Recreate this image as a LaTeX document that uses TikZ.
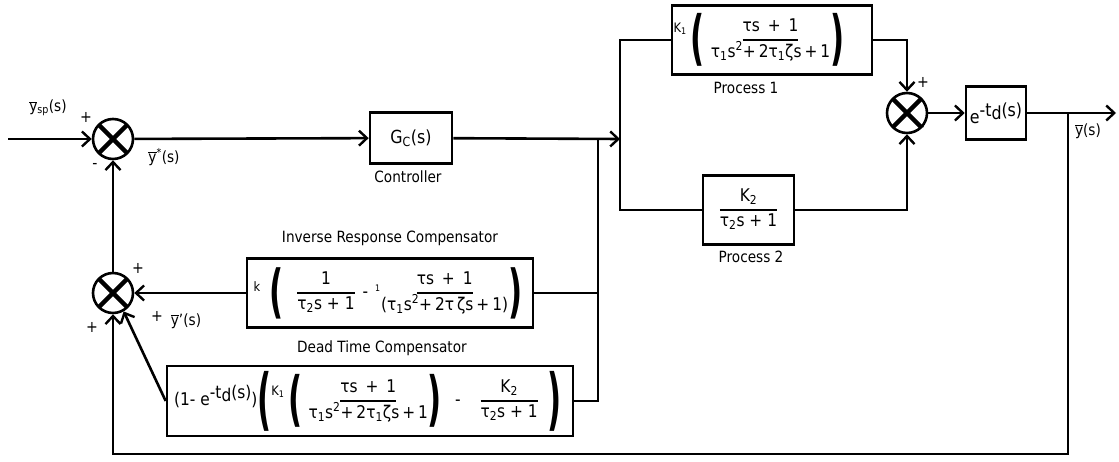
\documentclass[tikz,border=0pt]{standalone}
\usepackage{fontspec}
\usepackage{graphicx}
\setmainfont{DejaVu Sans}[FakeStretch=0.88]
\usetikzlibrary{arrows.meta}
\newsavebox\fnumbox
\newcommand\fracbox[3]{\ensuremath{\vcenter{\offinterlineskip\halign{\hfil##\hfil\cr\strut #2\cr\noalign{\kern1pt}\rule{#1}{2pt}\cr\noalign{\kern1pt}\strut #3\cr}}}}
\newcommand\frN[2]{\sbox\fnumbox{#1}\fracbox{\wd\fnumbox}{#1}{#2}}
\newcommand\frD[2]{\sbox\fnumbox{#2}\fracbox{\wd\fnumbox}{#1}{#2}}
\newcommand\LP[2]{\ensuremath{\vcenter{\hbox{\scalebox{#1}[#2]{\bfseries(}}}}}
\newcommand\RP[2]{\ensuremath{\vcenter{\hbox{\scalebox{#1}[#2]{\bfseries)}}}}}
\newcommand\ybar{\ensuremath{\overline{\mbox{y}}}}
\newcommand\sm[1]{{\fontsize{13}{15}\selectfont #1}}
\newcommand\sps{\hspace{0.45em}}
\newcommand\ts{\hspace{0.17em}}
\newcommand\denP{τ\textsubscript{1}s\textsuperscript{2}+\ts2τ\textsubscript{1}ζs\ts+\ts1}
\tikzset{
  line/.style={line width=2.6pt},
  arr/.style={line width=2.6pt,-{Straight Barb[length=8pt,width=15pt,line width=2.4pt]}},
  blk/.style={draw,line width=2.6pt,inner sep=0pt,align=center},
  fml/.style={font=\fontsize{17.5}{21}\selectfont},
  sumj/.style={circle,draw,line width=2.6pt,minimum size=40pt,inner sep=0pt,
    path picture={\draw[line width=4.5pt]
      (path picture bounding box.north west)--(path picture bounding box.south east)
      (path picture bounding box.north east)--(path picture bounding box.south west);}},
  lbl/.style={font=\fontsize{15.5}{18}\selectfont,inner sep=0pt},
  sgn/.style={font=\fontsize{16}{18}\selectfont,inner sep=0pt},
}
\begin{document}
\begin{tikzpicture}[x=1pt,y=-1pt]
\useasboundingbox (0,0) rectangle (1119,462);
% summing junctions
\node[sumj] (s1) at (113,139) {};
\node[sumj] (s2) at (907,113) {};
\node[sumj] (s3) at (113,293) {};
% blocks
\node[blk,minimum width=82pt,minimum height=51pt,font=\fontsize{18}{21}\selectfont] (gc) at (411,138) {G\textsubscript{C}(s)};
\node[blk,fml,minimum width=200pt,minimum height=69pt] (p1) at (772,40)
  {\raisebox{12pt}{\sm{K\textsubscript{1}}}\hspace{4pt}\LP{2}{3.4}\hspace{6pt}\frN{τs\sps+\sps1}{\denP}\RP{2}{3.4}\hspace{26pt}};
\node[blk,fml,minimum width=91pt,minimum height=69pt] (p2) at (748.5,210)
  {\frD{K\textsubscript{2}}{τ\textsubscript{2}s + 1}};
\node[blk,minimum width=60pt,minimum height=53pt,font=\fontsize{18}{21}\selectfont] (ed) at (996,113)
  {e\raisebox{7pt}{-t\raisebox{-3pt}{d}(s)}};
\node[blk,fml,minimum width=286pt,minimum height=69pt] (irc) at (390,293)
  {\raisebox{6pt}{\sm{k}}\hspace{9pt}\LP{2}{3.3}\hspace{14pt}\frD{1}{τ\textsubscript{2}s + 1}\hspace{8pt}-\hspace{7pt}\raisebox{6pt}{\fontsize{9}{10}\selectfont 1}\hspace{1pt}\frN{τs\sps+\sps1}{(τ\textsubscript{1}s\textsuperscript{2}+\ts2τ\ts ζs\ts+\ts1)}\RP{2}{3.3}\hspace{4pt}};
\node[blk,fml,minimum width=406pt,minimum height=70pt] (dtc) at (370,401)
  {(1- e\raisebox{7pt}{-t\raisebox{-3pt}{d}(s)})\LP{2}{3.85}\raisebox{10pt}{\sm{K\textsubscript{1}}}\hspace{4pt}\LP{2}{3.4}\hspace{6pt}\frN{τs\sps+\sps1}{\denP}\RP{2}{3.4}\hspace{13pt}-\hspace{20pt}\frD{K\textsubscript{2}}{τ\textsubscript{2}s + 1}\hspace{10pt}\RP{2}{3.85}\hspace{4pt}};
% labels
\node[lbl] (lgc) at (408,177) {Controller};
\node[lbl] (lp1) at (746,88) {Process 1};
\node[lbl] (lp2) at (751,257) {Process 2};
\node[lbl] (lirc) at (390,238) {Inverse Response Compensator};
\node[lbl] (ldtc) at (382,348) {Dead Time Compensator};
\node[lbl] (lysp) at (48,108) {\ybar\textsubscript{sp}(s)};
\node[lbl] (lys) at (164,157) {\ybar\textsuperscript{*}(s)};
\node[lbl] (lyp) at (186,321) {\ybar'(s)};
\node[lbl] (ly) at (1088,131) {\ybar(s)};
\node[sgn] at (86,117) {+};
\node[sgn] at (95,166) {-};
\node[sgn] at (923,82) {+};
\node[sgn] at (922,129) {-};
\node[sgn] at (138,268) {+};
\node[sgn] at (157,316) {+};
\node[sgn] at (92,327) {+};
% coordinates
\coordinate (in) at (8,139);
\coordinate (j1) at (620,139);
\coordinate (j2) at (598,139);
\coordinate (j3) at (1068,113);
\coordinate (out) at (1116,113);
\coordinate (fb) at (1068,454);
% connectors
\draw[arr] (in) -- (s1);
\draw[arr] (s1) -- (gc);
\draw[arr] (gc) -- (j1);
\draw[line] (p1.west) -| (j1) |- (p2.west);
\draw[arr] (p1.east) -| (s2);
\draw[arr] (p2.east) -| (s2);
\draw[arr] (s2) -- (ed);
\draw[arr] (ed) -- (out);
\draw[arr] (j3) -- (fb) -| (s3);
\draw[arr] (s3) -- (s1);
\draw[arr] (irc) -- (s3);
\draw[line] (irc.east) -| (j2);
\draw[line] (dtc.east) -| (j2);
\draw[arr] (dtc.west) -- (s3.-60);
\end{tikzpicture}
\end{document}
